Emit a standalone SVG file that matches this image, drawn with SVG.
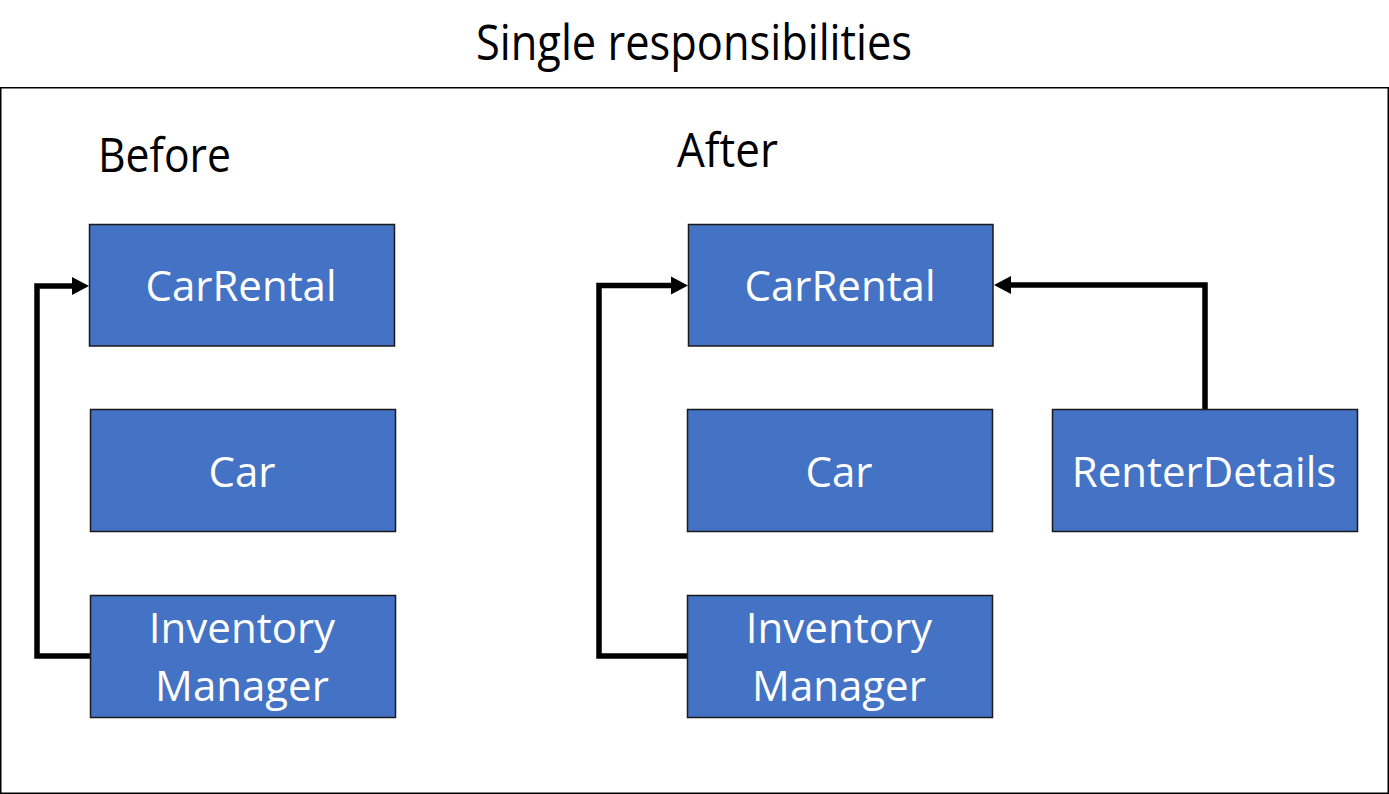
<svg xmlns="http://www.w3.org/2000/svg" width="1389" height="794" viewBox="0 0 1389 794">
<style>
.box{fill:#4472C4;stroke:#1a1a1a;stroke-width:1.5}
.bt{font-family:"Open Sans","Noto Sans",sans-serif;font-size:42px;fill:#fff;text-anchor:middle}
.lbl{font-family:"Open Sans","Noto Sans",sans-serif;fill:#000}
.conn{fill:none;stroke:#000;stroke-width:5.5}
</style>
<defs>
<marker id="arr" markerUnits="userSpaceOnUse" markerWidth="18" markerHeight="18" refX="0" refY="9" orient="auto" overflow="visible">
<path d="M0,0 L17,9 L0,18 z" fill="#000"/>
</marker>
</defs>
<rect width="1389" height="794" fill="#fff"/>
<text class="lbl" x="476" y="60" font-size="49" textLength="436" lengthAdjust="spacingAndGlyphs">Single responsibilities</text>
<rect x="0.75" y="87.75" width="1387.5" height="705.5" fill="none" stroke="#000" stroke-width="1.5"/>
<text class="lbl" x="98" y="172" font-size="47" textLength="133" lengthAdjust="spacingAndGlyphs">Before</text>
<text class="lbl" x="677" y="167" font-size="47" textLength="101" lengthAdjust="spacingAndGlyphs">After</text>
<g id="connectors">
<path class="conn" d="M90,656 H37 V286 H72" marker-end="url(#arr)"/>
<path class="conn" d="M687,656 H599 V285.5 H671" marker-end="url(#arr)"/>
<path class="conn" d="M1205,409 V285 H1011" marker-end="url(#arr)"/>
</g>
<g id="before-carrental"><rect class="box" x="89.5" y="224.5" width="305" height="121.5"/><text class="bt" x="241" y="301">CarRental</text></g>
<g id="before-car"><rect class="box" x="90.5" y="409.5" width="305" height="122"/><text class="bt" x="242" y="487">Car</text></g>
<g id="before-inventory"><rect class="box" x="90.5" y="595.5" width="305" height="122"/><text class="bt" x="242" y="643">Inventory</text><text class="bt" x="242" y="701">Manager</text></g>
<g id="after-carrental"><rect class="box" x="688.5" y="224.5" width="304.5" height="121.5"/><text class="bt" x="840" y="301">CarRental</text></g>
<g id="after-car"><rect class="box" x="687.5" y="409.5" width="305" height="122"/><text class="bt" x="839" y="487">Car</text></g>
<g id="after-renterdetails"><rect class="box" x="1052.5" y="409.5" width="305" height="122"/><text class="bt" x="1204" y="487">RenterDetails</text></g>
<g id="after-inventory"><rect class="box" x="687.5" y="595.5" width="305" height="122"/><text class="bt" x="839" y="643">Inventory</text><text class="bt" x="839" y="701">Manager</text></g>
</svg>
